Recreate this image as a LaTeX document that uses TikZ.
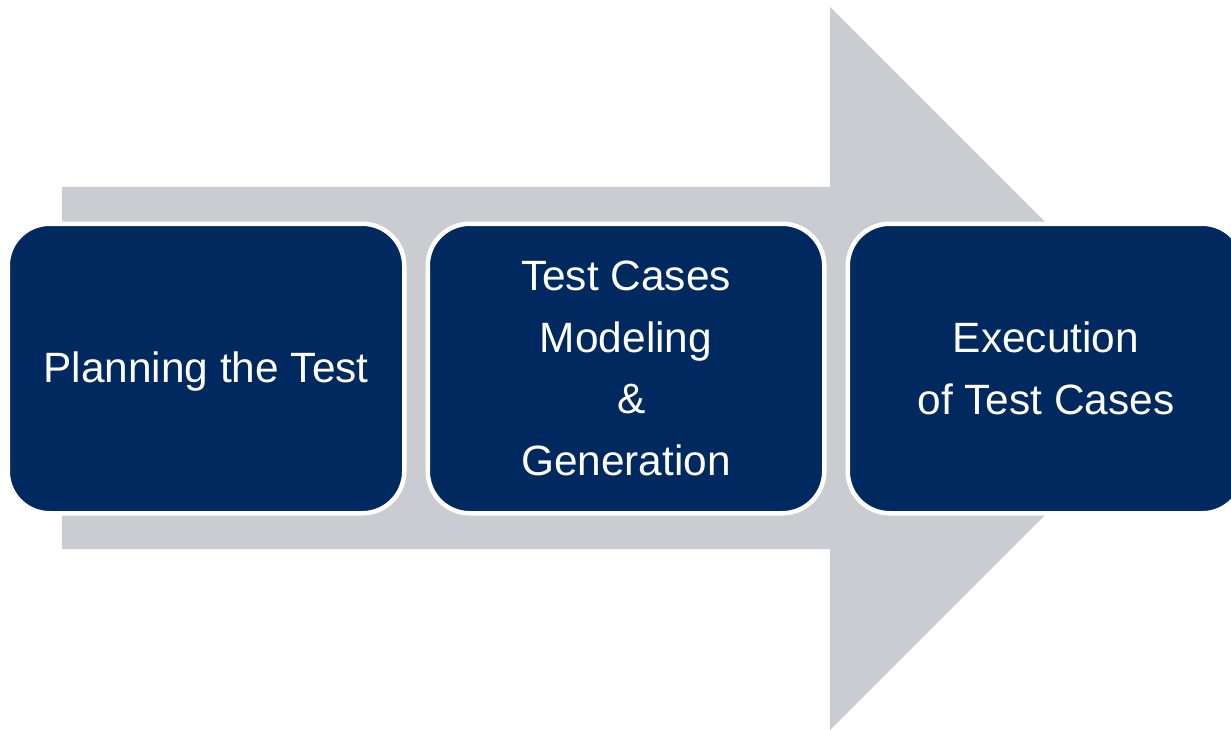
\documentclass[tikz,border=0pt]{standalone}
\usepackage{fontspec}
\setmainfont{Liberation Sans}
\definecolor{navy}{HTML}{00295F}
\definecolor{arrowgrey}{HTML}{CBCCD1}
\tikzset{
  stage/.style={draw=white, line width=4.5pt, fill=navy, rounded corners=42pt,
    minimum width=396.5pt, minimum height=289.5pt, inner sep=0pt, align=center,
    text=white, font=\fontsize{42.4}{61.5}\selectfont},
  bigarrow/.style={fill=arrowgrey, draw=none}
}
\begin{document}
\begin{tikzpicture}[x=1pt,y=-1pt]
  \useasboundingbox (0,0) rectangle (1231,730);
  \clip (0,0) rectangle (1231,730);
  \fill[white] (0,0) rectangle (1231,730);
  \path[bigarrow] (62,187) -- (830,187) -- (830,7) -- (1191.5,368.5) -- (830,730) -- (830,549) -- (62,549) -- cycle;
  \node[stage] (b1) at (206,368.5) {\raisebox{-3pt}[\height][\depth]{Planning the Test}};
  \node[stage] (b2) at (626,368.5) {Test Cases\\Modeling\\\hspace*{11.5pt}\&\\Generation};
  \node[stage] (b3) at (1046,368.5) {Execution\\of Test Cases};
\end{tikzpicture}
\end{document}
